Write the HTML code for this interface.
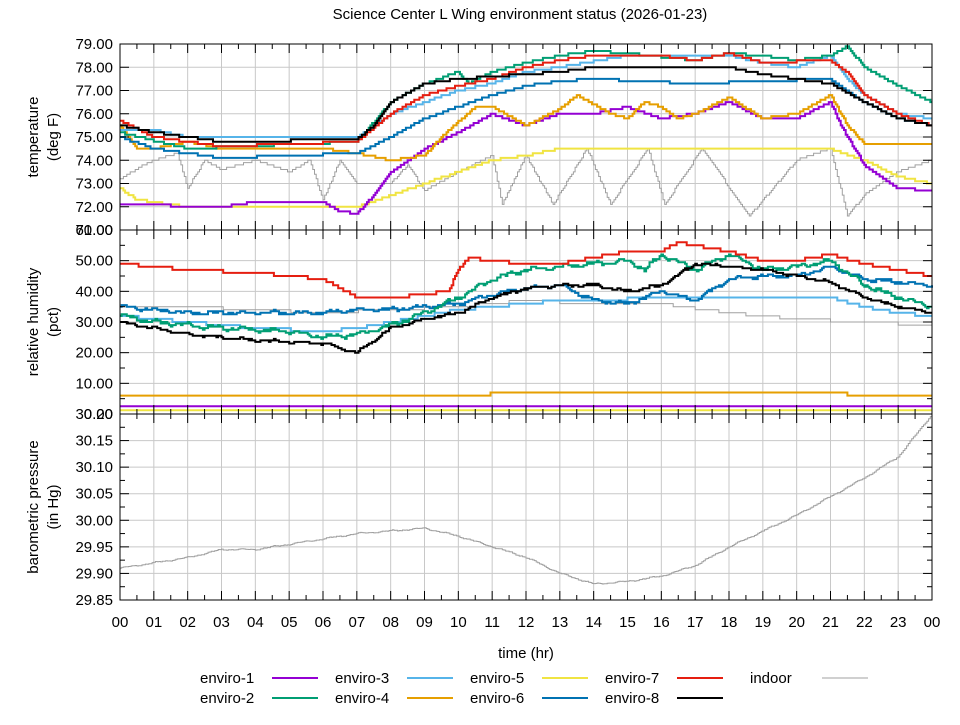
<!DOCTYPE html>
<html><head><meta charset="utf-8"><style>
body{margin:0;background:#fff}
svg text{font-family:"Liberation Sans","DejaVu Sans",sans-serif;font-size:15px;fill:#000}
</style></head><body>
<svg id="s" width="960" height="720" xmlns="http://www.w3.org/2000/svg"></svg>
<script>
const S=document.getElementById('s');let h='';
const X0=120,X1=932,W=X1-X0;
const xs=t=>X0+t/24*W;
const P=[{y0:44,y1:230,min:71,max:79,ticks:[72,73,74,75,76,77,78,79],mn:1},
{y0:230,y1:414,min:0,max:60,ticks:[10,20,30,40,50],mn:5},
{y0:414,y1:600,min:29.85,max:30.2,ticks:[29.85,29.9,29.95,30,30.05,30.1,30.15],mn:0.025}];
const ys=(p,v)=>p.y1-(v-p.min)/(p.max-p.min)*(p.y1-p.y0);
P.forEach(p=>{
 for(let i=1;i<24;i++)h+=`<line x1="${xs(i)}" x2="${xs(i)}" y1="${p.y0}" y2="${p.y1}" stroke="#c8c8c8"/>`;
 p.ticks.forEach(v=>{const y=ys(p,v);if(y>p.y0+1&&y<p.y1-1)h+=`<line x1="${X0}" x2="${X1}" y1="${y}" y2="${y}" stroke="#c8c8c8"/>`;});
});
function ser(p,pts,col,res,noise,sw){
 let d='',prev=null;
 for(let t=0;t<=24.001;t+=0.05){
  let i=0;while(i<pts.length-2&&pts[i+1][0]<t)i++;
  const a=pts[i],b=pts[i+1];let f=(t-a[0])/(b[0]-a[0]);f=Math.max(0,Math.min(1,f));
  let v=a[1]+(b[1]-a[1])*f+(noise?(Math.sin(t*7.3)+Math.sin(t*19.7)*0.6+Math.sin(t*61.1)*0.4)*noise:0);
  if(res)v=Math.round(v/res)*res;
  const x=xs(t).toFixed(1),y=ys(p,v).toFixed(1);
  if(prev===null)d+=`M${x} ${y}`;else d+=`H${x}V${y}`;prev=y;
 }
 h+=`<path d="${d}" fill="none" stroke="${col}" stroke-width="${sw||2}"/>`;
}
const C={e1:'#9400d3',e2:'#009e73',e3:'#56b4e9',e4:'#e69f00',e5:'#f0e442',e6:'#0072b2',e7:'#e51e10',e8:'#000000',in:'#a0a0a0'};
const T=P[0],H=P[1],B=P[2];
ser(T,[[0,73.2],[0.7,73.8],[1,74],[1.7,74.3],[2,72.8],[2.5,74],[3,73.6],[4,74],[5,73.5],[5.6,74],[6,72.3],[6.5,74],[7,73],[8,73],[8.5,73.8],[9,72.7],[10,73.5],[11,74.2],[11.3,72.1],[12,74.2],[12.8,72.1],[13.8,74.5],[14.5,72.1],[15.6,74.5],[16.1,72.1],[17.2,74.5],[18.6,71.6],[20,74],[21,74.5],[21.5,71.6],[22,72.5],[23,73.5],[24,74]],C.in,0.1,0,1);
ser(T,[[0,72.8],[0.5,72.3],[2,72],[7,72],[8,72.5],[9,73],[10,73.5],[11,74],[12,74.2],[13,74.5],[21,74.5],[22,74],[23,73.3],[24,73]],C.e5,0.1);
ser(T,[[0,72.1],[3,72],[4,72.2],[6,72.2],[6.5,71.8],[7,71.7],[7.5,72.5],[8,73.5],[9,74.5],[10,75.2],[11,76],[12,75.5],[13,76],[14,76],[15,76.3],[16,75.8],[17,76],[18,76.5],[19,75.8],[20,75.8],[21,76.5],[21.3,75.5],[22,73.8],[23,72.8],[24,72.7]],C.e1,0.1);
ser(T,[[0,75.5],[0.5,74.5],[1,74.5],[2,74.8],[3,74.5],[6,74.5],[7,74.3],[8,74],[9,74.2],[9.5,75],[10.5,76.3],[11,76.3],[12,75.5],[13,76.2],[13.5,76.8],[14.5,76],[15,75.8],[15.5,76.5],[16,76.3],[16.5,75.8],[17,76],[18,76.7],[19,75.8],[20,76],[21,76.8],[21.5,75.5],[22,74.7],[24,74.7]],C.e4,0.1);
ser(T,[[0,75.3],[1,75.3],[2,75],[7,75],[8,76],[9,76.5],[10,77],[11,77.3],[12,77.8],[13,78],[15,78.5],[18,78.5],[19,78.2],[20,78],[21,78.5],[21.5,77.5],[22,76.8],[23,76],[24,75.8]],C.e3,0.1);
ser(T,[[0,75],[1,74.5],[2,74.3],[3,74.1],[7,74.3],[8,75],[9,75.8],[10,76.3],[11,76.8],[12,77.2],[13,77.4],[14,77.5],[17,77.3],[21,77.5],[22,76.5],[23,75.8],[24,75.5]],C.e6,0.1);
ser(T,[[0,75.2],[2,74.5],[7,74.8],[8,76.5],[9,77.3],[10,77.8],[10.3,77.3],[11,77.8],[12,78.2],[13,78.5],[14,78.7],[15,78.6],[17,78.3],[18,78.6],[19,78.5],[20,78.3],[21,78.5],[21.5,78.9],[22,78],[23,77.2],[24,76.5]],C.e2,0.1);
ser(T,[[0,75.7],[1,75],[2,74.8],[3,74.6],[7,74.8],[8,76],[9,76.8],[10,77.2],[11,77.5],[12,78],[13,78.3],[14,78.5],[16,78.5],[17,78.3],[18,78.6],[19,78.2],[21,78.3],[21.5,77.8],[22,76.8],[23,76],[24,75.5]],C.e7,0.1);
ser(T,[[0,75.5],[1,75.2],[2,75],[3,74.8],[7,74.9],[7.5,75.5],[8,76.5],[9,77.3],[10,77.5],[11,77.6],[12,77.7],[13,77.8],[14,78],[17,78],[18,78],[19,77.7],[20,77.5],[21,77.3],[22,76.5],[23,75.8],[24,75.5]],C.e8,0.1);
ser(H,[[0,35],[2,35],[4,34],[6,33],[8,34],[10,35],[12,37],[14,36],[16,36],[18,33],[20,31],[22,30],[24,29]],C.in,1,0,1);
ser(H,[[0,1.2],[24,1.2]],C.e5,0);
ser(H,[[0,2.5],[24,2.5]],C.e1,0);
ser(H,[[0,6],[10.9,6],[11,7],[12,6.5],[14,7],[15,7.5],[16,6.5],[17,7],[19,6.8],[21,7],[22,6],[24,6]],C.e4,1);
ser(H,[[0,32],[2,30],[4,28],[6,27],[7,28],[8,30],[9,32],[10,34],[11,35],[12,36],[13,37],[17,38],[21,38],[22,35],[23,33],[24,32]],C.e3,1);
ser(H,[[0,35],[2,33],[6,33],[7,34],[8,34],[9,35],[10,36],[11,39],[12,41],[13,42],[14,37],[15,36],[16,40],[17,37],[18,44],[19,45],[20,45],[21,48],[22,44],[23,43],[24,42]],C.e6,0.5,0.4);
ser(H,[[0,32],[1,30],[3,28],[5,27],[6,25],[7,26],[8,29],[9,33],[10,38],[11,44],[12,47],[13,48],[14,49],[15,50],[15.5,47],[16,52],[17,47],[18,52],[19,47],[20,48],[21,50],[22,42],[23,38],[24,35]],C.e2,0.5,0.5);
ser(H,[[0,49],[1,48],[2,47],[4,46],[5,45],[6,44],[7,38],[8,38],[9,39],[9.7,40],[10,47],[10.3,51],[11,50],[12,49],[13,49],[14,51],[15,53],[16,53],[16.5,56],[17,55],[18,53],[19,50],[20,50],[21,52],[22,49],[23,47],[24,45]],C.e7,1);
ser(H,[[0,30],[1,28],[2,26],[3,25],[4,24],[6,23],[7,20],[8,28],[9,31],[10,33],[11,38],[12,41],[13,42],[14,42],[15,40],[16,42],[17,49],[18,48],[19,47],[20,45],[21,43],[22,38],[23,35],[24,33]],C.e8,0.5,0.3);
ser(B,[[0,29.91],[2,29.93],[3,29.945],[4,29.945],[5,29.955],[6,29.965],[7,29.975],[8,29.98],[9,29.985],[10,29.97],[11,29.95],[12,29.93],[13,29.9],[14,29.88],[15,29.885],[16,29.895],[17,29.915],[18,29.95],[19,29.98],[20,30.01],[21,30.045],[22,30.08],[23,30.12],[24,30.2]],C.in,0,0.001,1);
P.forEach((p,k)=>{
 h+=`<rect x="${X0}" y="${p.y0}" width="${W}" height="${p.y1-p.y0}" fill="none" stroke="#000"/>`;
 for(let i=0;i<=48;i++){const x=xs(i/2),l=i%2?5:9;h+=`<line x1="${x}" x2="${x}" y1="${p.y1}" y2="${p.y1-l}" stroke="#000"/><line x1="${x}" x2="${x}" y1="${p.y0}" y2="${p.y0+l}" stroke="#000"/>`;}
 for(let v=p.min;v<=p.max+1e-9;v+=p.mn){const y=ys(p,v),maj=p.ticks.some(t=>Math.abs(t-v)<1e-6);h+=`<line x1="${X0}" x2="${X0+(maj?9:5)}" y1="${y}" y2="${y}" stroke="#000"/><line x1="${X1}" x2="${X1-(maj?9:5)}" y1="${y}" y2="${y}" stroke="#000"/>`;}
 p.ticks.forEach(v=>h+=`<text x="113" y="${ys(p,v)+5}" text-anchor="end">${v.toFixed(2)}</text>`);
});
h+=`<text x="113" y="235" text-anchor="end">60.00</text><text x="113" y="235" text-anchor="end">71.00</text>`;
h+=`<text x="113" y="419" text-anchor="end">30.20</text><text x="113" y="419" text-anchor="end">0.00</text>`;
for(let i=0;i<=24;i++)h+=`<text x="${xs(i)}" y="627" text-anchor="middle">${String(i%24).padStart(2,'0')}</text>`;
h+=`<text x="526" y="658" text-anchor="middle">time (hr)</text>`;
h+=`<text x="520" y="19" text-anchor="middle">Science Center L Wing environment status (2026-01-23)</text>`;
const yl=(cy,a,b)=>{h+=`<text transform="translate(38,${cy}) rotate(-90)" text-anchor="middle">${a}</text><text transform="translate(58,${cy}) rotate(-90)" text-anchor="middle">${b}</text>`;};
yl(137,'temperature','(deg F)');yl(322,'relative humidity','(pct)');yl(507,'barometric pressure','(in Hg)');
const L=[['enviro-1',C.e1,200,683],['enviro-2',C.e2,200,703],['enviro-3',C.e3,335,683],['enviro-4',C.e4,335,703],['enviro-5',C.e5,470,683],['enviro-6',C.e6,470,703],['enviro-7',C.e7,605,683],['enviro-8',C.e8,605,703],['indoor',C.in,750,683]];
L.forEach(([n,c,x,y])=>{h+=`<text x="${x}" y="${y}">${n}</text><line x1="${x+72}" x2="${x+118}" y1="${y-5}" y2="${y-5}" stroke="${c}" stroke-width="${n=='indoor'?1:2}"/>`;});
S.innerHTML=h;
</script>
</body></html>
